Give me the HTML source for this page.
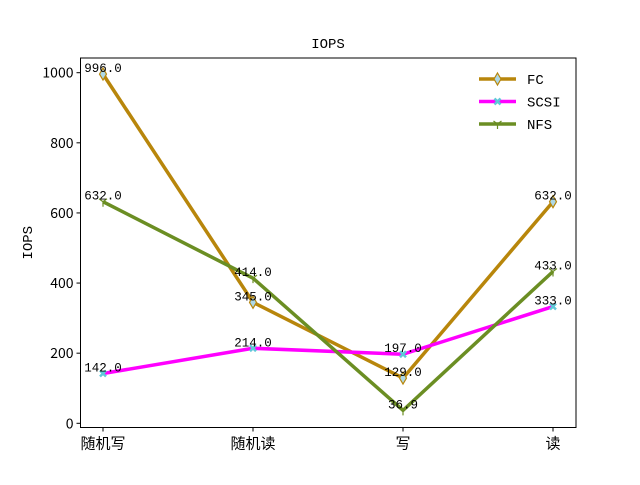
<!DOCTYPE html>
<html><head><meta charset="utf-8"><style>
body{margin:0;background:#fff}
svg text{font-family:"WenQuanYi Zen Hei","Noto Sans CJK SC",sans-serif}
svg text.mono{font-family:"Liberation Mono","WenQuanYi Zen Hei",monospace}
</style></head><body>
<svg id="c" width="640" height="480" xmlns="http://www.w3.org/2000/svg">
<rect width="640" height="480" fill="#fff"/>
<text class="mono" x="328" y="48" font-size="14" text-anchor="middle">IOPS</text>
<g id="plot"></g>
</svg>
<script>
const categories=["随机写","随机读","写","读"];
const fcValues=[996.0,345.0,129.0,632.0];
const scsiValues=[142.0,214.0,197.0,333.0];
const nfsValues=[632.0,414.0,36.9,433.0];
const yTicks=[0,200,400,600,800,1000];
const L=80.5,R=576,T=58,B=427.5;
const x=i=>103+i*150;
const y=v=>423.3-v*(350.6/1000);
const ns="http://www.w3.org/2000/svg";
const g=document.getElementById('plot');
function mk(tag,attrs,parent){const e=document.createElementNS(ns,tag);for(const k in attrs)e.setAttribute(k,attrs[k]);(parent||g).appendChild(e);return e;}
yTicks.forEach(t=>{
  const ln=mk('line',{x1:L-4,x2:L,y1:y(t),y2:y(t),stroke:'#000','stroke-width':1});
  
  
  const tx=mk('text',{x:L-7,y:y(t)+5,'font-size':14,'text-anchor':'end'});
  tx.textContent=t;
  
  
});
categories.forEach((c,i)=>{
  const ln=mk('line',{x1:x(i),x2:x(i),y1:B,y2:B+4,stroke:'#000','stroke-width':1});
  
  
  const tx=mk('text',{x:x(i),y:B+21,'font-size':15,'text-anchor':'middle'});
  tx.textContent=c;
  
  
});
const yl=mk('text',{x:0,y:0,'font-size':14,'text-anchor':'middle','class':'mono',transform:`translate(32,${(T+B)/2}) rotate(-90)`});
yl.textContent='IOPS';


const series=[
 {name:'FC',vals:fcValues,color:'#b8860b',marker:'d'},
 {name:'SCSI',vals:scsiValues,color:'#ff00ff',marker:'x'},
 {name:'NFS',vals:nfsValues,color:'#6b8e23',marker:'1'}];
function marker(type,cx,cy,color,parent){
  if(type==='d'){const m=mk('path',{d:`M${cx},${cy-6}L${cx+3.5},${cy}L${cx},${cy+6}L${cx-3.5},${cy}Z`,fill:'#add8e6',stroke:color,'stroke-width':1.2},parent);}
  else if(type==='x'){const m=mk('path',{d:`M${cx-3},${cy-3}L${cx+3},${cy+3}M${cx-3},${cy+3}L${cx+3},${cy-3}`,stroke:'#5fc8d8','stroke-width':2.5},parent);}
  else {const m=mk('path',{d:`M${cx},${cy}L${cx},${cy+5}M${cx},${cy}L${cx-4},${cy-3}M${cx},${cy}L${cx+4},${cy-3}`,stroke:color,'stroke-width':1.2,fill:'none'},parent);}
}
series.forEach(s=>{
  const p=mk('polyline',{points:s.vals.map((v,i)=>x(i)+','+y(v)).join(' '),fill:'none',stroke:s.color,'stroke-width':3.5,'stroke-linejoin':'round'});
  
  
  s.vals.forEach((v,i)=>marker(s.marker,x(i),y(v),s.color));
});
series.forEach(s=>{
  s.vals.forEach((v,i)=>{
    const t=mk('text',{x:x(i),y:y(v)-2,'font-size':12.5,'text-anchor':'middle','class':'mono'});
    t.textContent=v.toFixed(1);
    
    
  });
});
const ax=mk('rect',{x:L,y:T,width:R-L,height:B-T,fill:'none',stroke:'#000','stroke-width':1});


const lg=mk('g',{});


series.forEach((s,i)=>{
  const ly=79+i*22.5;
  const ln=mk('line',{x1:479,x2:516,y1:ly,y2:ly,stroke:s.color,'stroke-width':3.5},lg);
  
  
  marker(s.marker,497.5,ly,s.color,lg);
  const t=mk('text',{x:527,y:ly+5,'font-size':14,'class':'mono'},lg);
  t.textContent=s.name;
  
  
});
</script>
</body></html>
